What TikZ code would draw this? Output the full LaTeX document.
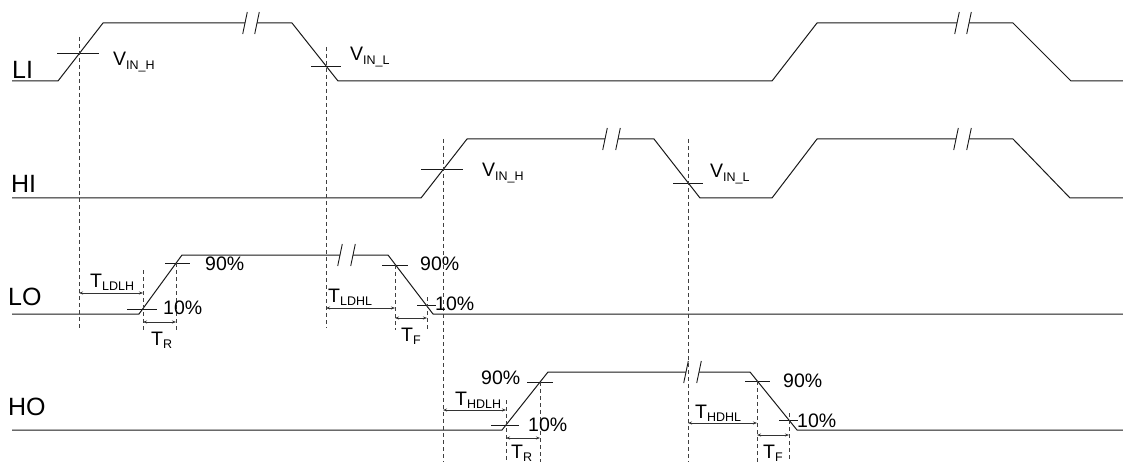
\documentclass[tikz,border=0pt]{standalone}
\usepackage{fontspec}
\setmainfont{Liberation Sans}
\usetikzlibrary{arrows.meta}
\newcommand{\subtx}[1]{\raisebox{-0.3ex}{\fontsize{12.5}{13}\selectfont #1}}
\newcommand{\brkmark}[2]{\draw[tickln] ({#1-2.3},{#2+11}) -- ({#1+2.3},{#2-11});}
\begin{document}
\begin{tikzpicture}[x=1pt,y=-1pt,
  wave/.style={line width=1pt, line join=miter, black!90},
  tickln/.style={line width=0.9pt, black!90},
  guide/.style={line width=0.8pt, dash pattern=on 4pt off 3pt, black!75},
  dim/.style={line width=0.6pt, black!80, {Stealth[length=4pt,width=3pt]}-{Stealth[length=4pt,width=3pt]}},
  lbl/.style={font=\fontsize{19.5}{21}\selectfont, inner sep=0pt, anchor=base west},
  sig/.style={font=\fontsize{25}{27}\selectfont, inner sep=0pt, anchor=base west}]
\useasboundingbox (0,0) rectangle (1123,462);

% ---------- signal names
\node[sig] (nLI) at (12,79) {LI};
\node[sig] (nHI) at (11,193) {HI};
\node[sig] (nLO) at (8,305) {LO};
\node[sig] (nHO) at (8,415) {HO};

% ---------- LI waveform
\draw[wave] (12,81) -- (58,81) -- (103,23) -- (245,23);
\draw[wave] (257,23) -- (292,23) -- (338,81) -- (772,81) -- (817,23) -- (957,23);
\draw[wave] (969,23) -- (1013,23) -- (1071,81) -- (1123,81);
\brkmark{245}{23} \brkmark{257}{23}
\brkmark{957}{23} \brkmark{969}{23}

% ---------- HI waveform
\draw[wave] (12,198) -- (421,198) -- (467,139) -- (605,139);
\draw[wave] (618,139) -- (654,139) -- (700,198) -- (772,198) -- (817,139) -- (956,139);
\draw[wave] (969,139) -- (1013,139) -- (1070,198) -- (1123,198);
\brkmark{605}{139} \brkmark{618}{139}
\brkmark{956}{139} \brkmark{969}{139}

% ---------- LO waveform
\draw[wave] (12,314) -- (139,314) -- (182,255) -- (340,255);
\draw[wave] (353,255) -- (388,255) -- (433,314) -- (1123,314);
\brkmark{340}{255} \brkmark{353}{255}

% ---------- HO waveform
\draw[wave] (12,430) -- (502,430) -- (548,372) -- (686,372);
\draw[wave] (699,372) -- (750,372) -- (797,430) -- (1123,430);
\brkmark{686}{372} \brkmark{699}{372}

% ---------- threshold crossing ticks
\draw[tickln] (57,53) -- (99,53);
\draw[tickln] (311,66) -- (341,66);
\draw[tickln] (421,169) -- (463,169);
\draw[tickln] (673,183) -- (703,183);
\draw[tickln] (127,309) -- (157,309);
\draw[tickln] (165,263) -- (190,263);
\draw[tickln] (382,265) -- (408,265);
\draw[tickln] (417,305) -- (436,305);
\draw[tickln] (491,425) -- (519,425);
\draw[tickln] (527,382) -- (553,382);
\draw[tickln] (745,381) -- (770,381);
\draw[tickln] (779,420) -- (798,420);

% ---------- dashed guide lines
\draw[guide] (79,37) -- (79,328);
\draw[guide] (326,47) -- (326,328);
\draw[guide] (443,139) -- (443,462);
\draw[guide] (688,139) -- (688,462);
\draw[guide] (143,270) -- (143,330);
\draw[guide] (176,263) -- (176,330);
\draw[guide] (395,265) -- (395,330);
\draw[guide] (427,297) -- (427,330);
\draw[guide] (506,400) -- (506,462);
\draw[guide] (540,382) -- (540,462);
\draw[guide] (757,381) -- (757,462);
\draw[guide] (789,413) -- (789,462);

% ---------- dimension arrows
\coordinate (a1l) at (79,293);  \coordinate (a1r) at (143,293);
\coordinate (a2l) at (143,322); \coordinate (a2r) at (176,322);
\coordinate (a3l) at (326,308); \coordinate (a3r) at (395,308);
\coordinate (a4l) at (395,318); \coordinate (a4r) at (427,318);
\coordinate (a5l) at (443,410); \coordinate (a5r) at (506,410);
\coordinate (a6l) at (506,438); \coordinate (a6r) at (540,438);
\coordinate (a7l) at (688,423); \coordinate (a7r) at (757,423);
\coordinate (a8l) at (757,435); \coordinate (a8r) at (789,435);
\draw[dim] (a1l) -- (a1r);
\draw[dim] (a2l) -- (a2r);
\draw[dim] (a3l) -- (a3r);
\draw[dim] (a4l) -- (a4r);
\draw[dim] (a5l) -- (a5r);
\draw[dim] (a6l) -- (a6r);
\draw[dim] (a7l) -- (a7r);
\draw[dim] (a8l) -- (a8r);

% ---------- threshold labels
\node[lbl] (v1) at (113,66) {V\subtx{IN\_H}};
\node[lbl] (v2) at (350,61) {V\subtx{IN\_L}};
\node[lbl] (v3) at (482,177) {V\subtx{IN\_H}};
\node[lbl] (v4) at (710,178) {V\subtx{IN\_L}};

% ---------- percentage labels
\node[lbl] (p1) at (205,270) {90\%};
\node[lbl] (p2) at (163,314) {10\%};
\node[lbl] (p3) at (420,270) {90\%};
\node[lbl] (p4) at (435,310) {10\%};
\node[lbl] (p5) at (481,384) {90\%};
\node[lbl] (p6) at (528,431) {10\%};
\node[lbl] (p7) at (783,387) {90\%};
\node[lbl] (p8) at (797,427) {10\%};

% ---------- timing labels
\node[lbl] (t1) at (90,287) {T\subtx{LDLH}};
\node[lbl] (t2) at (151,345) {T\subtx{R}};
\node[lbl] (t3) at (328,302) {T\subtx{LDHL}};
\node[lbl] (t4) at (401,341) {T\subtx{F}};
\node[lbl] (t5) at (455,405) {T\subtx{HDLH}};
\node[lbl] (t6) at (511,458) {T\subtx{R}};
\node[lbl] (t7) at (695,418) {T\subtx{HDHL}};
\node[lbl] (t8) at (763,458) {T\subtx{F}};
\end{tikzpicture}
\end{document}
